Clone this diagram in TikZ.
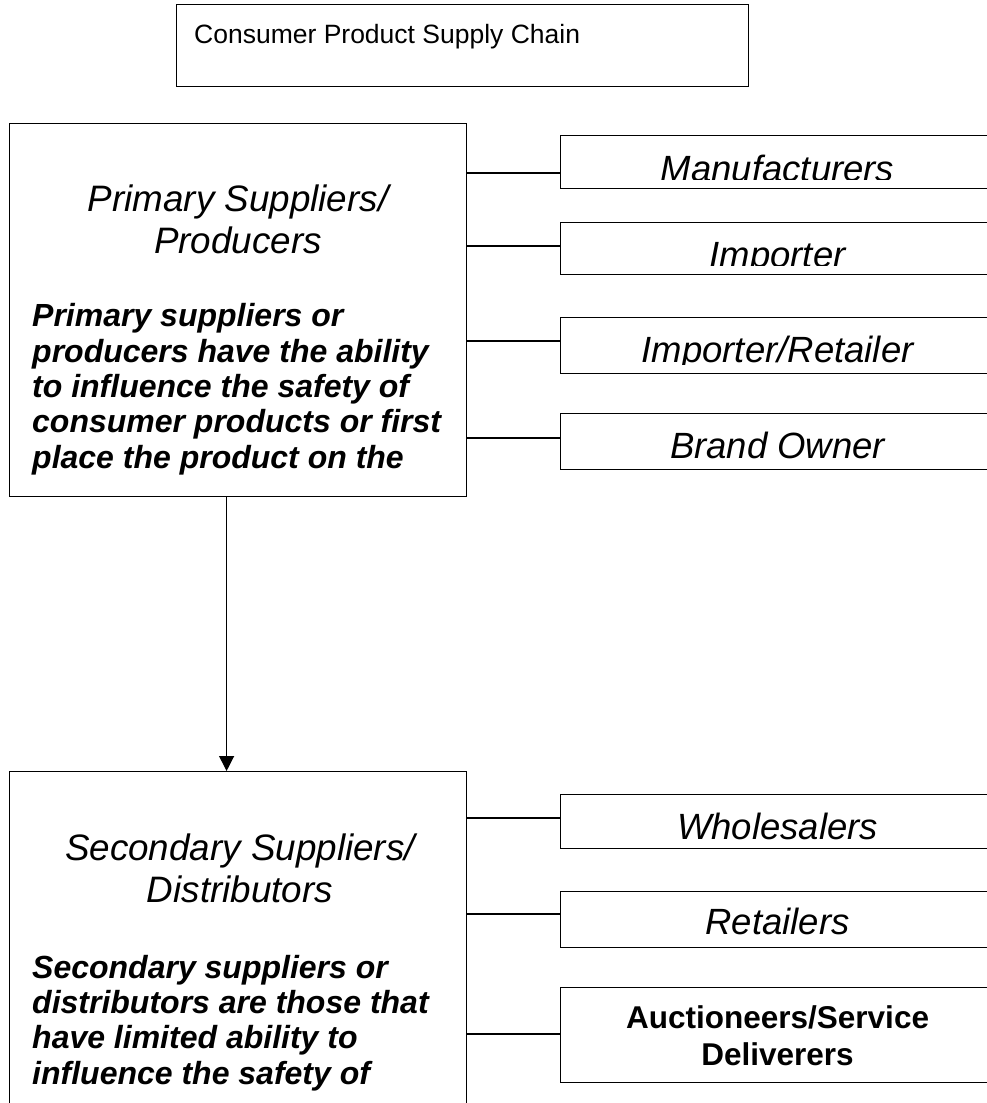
\documentclass[tikz,border=0pt]{standalone}
\usepackage{fontspec}
\setmainfont{Liberation Sans}
\usetikzlibrary{arrows.meta}

\begin{document}
\begin{tikzpicture}[x=1pt,y=-1pt,
  box/.style={draw,line width=1.2pt,anchor=north west,inner sep=0pt},
  sub/.style={box,minimum width=434pt},
  head/.style={font=\fontsize{36.8}{42}\selectfont\itshape,align=center,anchor=base,inner sep=0pt},
  note/.style={font=\fontsize{32}{35.3}\selectfont\bfseries\itshape,align=left,anchor=base west,inner sep=0pt},
  lbl/.style={font=\fontsize{36.5}{42}\selectfont\itshape,anchor=base,inner sep=0pt},
  link/.style={line width=1.2pt},
  arr/.style={-{Triangle[length=15pt,width=15pt]},line width=1.2pt}]
  \useasboundingbox (0,0) rectangle (987,1103);
  \clip (0,0) rectangle (987,1103);
  \node[box,minimum width=572pt,minimum height=82pt] (title) at (176,4) {};
  \node[anchor=base west,inner sep=0pt,font=\fontsize{26.5}{30}\selectfont] (titletxt) at (194,43) {Consumer Product Supply Chain};

  \node[box,minimum width=457pt,minimum height=373pt] (prim) at (9,123) {};
  \node[head] (primhead) at (238,253) {Primary Suppliers/\\Producers};
  \node[note] (primnote) at (32,468) {Primary suppliers or\\producers have the ability\\to influence the safety of\\consumer products or first\\place the product on the};

  \node[box,minimum width=457pt,minimum height=340pt] (sec) at (9,771) {};
  \node[head] (sechead) at (240,902) {Secondary Suppliers/\\Distributors};
  \node[note] (secnote) at (32,1084) {Secondary suppliers or\\distributors are those that\\have limited ability to\\influence the safety of};

  \node[sub,minimum height=53pt] (manu) at (560,135) {};
  \node[sub,minimum height=52pt] (imp) at (560,222) {};
  \node[sub,minimum height=56pt] (impret) at (560,317) {};
  \node[sub,minimum height=56pt] (brand) at (560,413) {};
  \node[sub,minimum height=54pt] (whole) at (560,794) {};
  \node[sub,minimum height=56pt] (retail) at (560,891) {};
  \node[sub,minimum height=95pt] (auction) at (560,987) {};

  \begin{scope}
    \clip (manu.north west) rectangle ([yshift=10pt]manu.south east);
    \node[lbl] (manutxt) at ([yshift=-46pt]manu.north) {Manufacturers};
  \end{scope}
  \begin{scope}
    \clip (imp.north west) rectangle ([yshift=10pt]imp.south east);
    \node[lbl] (imptxt) at ([yshift=-45pt]imp.north) {Importer};
  \end{scope}
  \begin{scope}
    \clip (impret.north west) rectangle ([yshift=10pt]impret.south east);
    \node[lbl] (impretxt) at ([yshift=-45pt]impret.north) {Importer/Retailer};
  \end{scope}
  \begin{scope}
    \clip (brand.north west) rectangle ([yshift=10pt]brand.south east);
    \node[lbl] (brandtxt) at ([yshift=-45pt]brand.north) {Brand Owner};
  \end{scope}
  \begin{scope}
    \clip (whole.north west) rectangle ([yshift=10pt]whole.south east);
    \node[lbl] (wholetxt) at ([yshift=-45pt]whole.north) {Wholesalers};
  \end{scope}
  \begin{scope}
    \clip (retail.north west) rectangle ([yshift=10pt]retail.south east);
    \node[lbl] (retailtxt) at ([yshift=-43pt]retail.north) {Retailers};
  \end{scope}
  \node[font=\fontsize{31.5}{37}\selectfont\bfseries,align=center,anchor=base,inner sep=0pt] (auctiontxt) at ([yshift=-78pt]auction.north) {Auctioneers/Service\\Deliverers};

  \draw[link] (prim.east |- 0,173) -- (manu.west |- 0,173);
  \draw[link] (prim.east |- 0,246) -- (imp.west |- 0,246);
  \draw[link] (prim.east |- 0,341) -- (impret.west |- 0,341);
  \draw[link] (prim.east |- 0,438) -- (brand.west |- 0,438);
  \draw[link] (sec.east |- 0,818) -- (whole.west |- 0,818);
  \draw[link] (sec.east |- 0,914) -- (retail.west |- 0,914);
  \draw[link] (sec.east |- 0,1034) -- (auction.west |- 0,1034);
  \draw[arr] ([xshift=-11.5pt]prim.south) -- ([xshift=-11.5pt]sec.north);
\end{tikzpicture}
\end{document}
